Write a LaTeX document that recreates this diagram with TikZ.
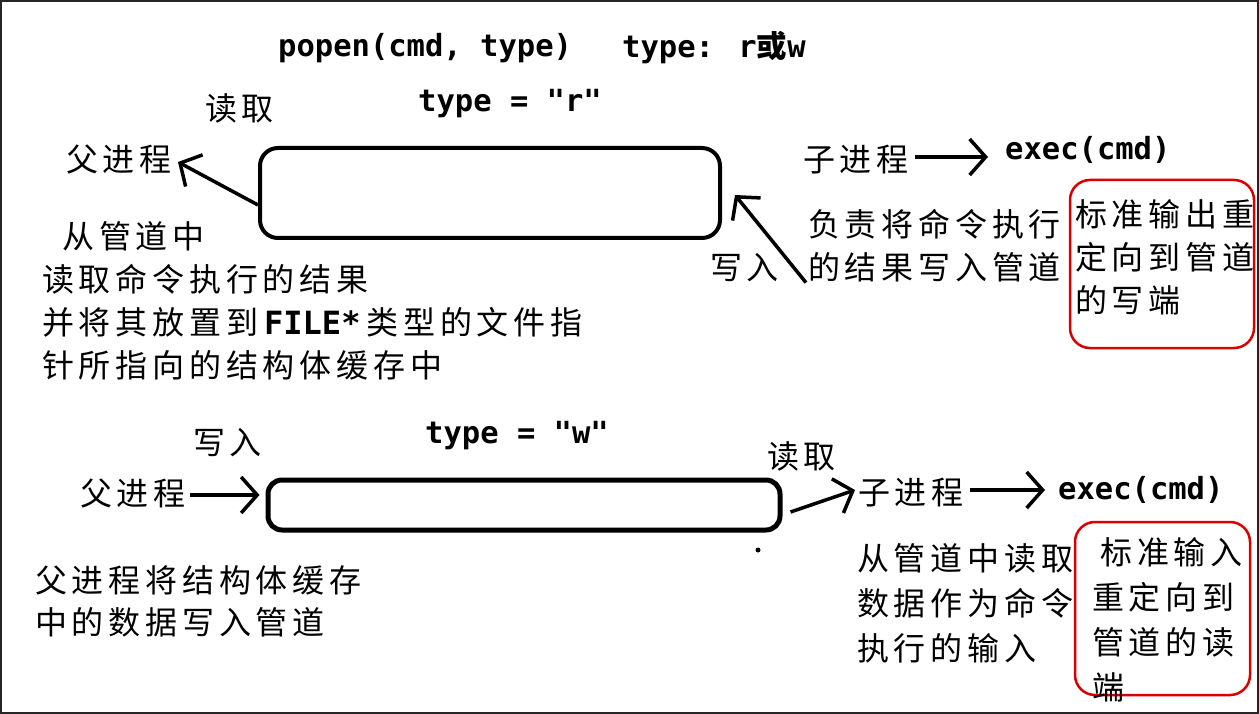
\documentclass[tikz,border=0pt]{standalone}
\usepackage{fontspec}
\usetikzlibrary{arrows.meta,calc}
\newfontfamily\cjk[LetterSpace=15]{Noto Sans CJK SC}
\newfontfamily\mono{DejaVu Sans Mono}
\tikzset{
  zh/.style={font=\cjk\fontsize{32pt}{43pt}\selectfont, inner sep=0pt, anchor=west, align=left},
  code/.style={font=\mono\bfseries\fontsize{30.5pt}{36pt}\selectfont, inner sep=0pt, anchor=west},
  pipe/.style={draw, line width=4pt, rounded corners=18pt, inner sep=0pt},
  redbox/.style={draw=red!85!black, line width=2.5pt, rounded corners=20pt},
  barb/.style={line width=3.5pt, -{Straight Barb[length=16pt,width=36pt]}},
}
\begin{document}
\begin{tikzpicture}[x=1pt,y=-1pt]
\useasboundingbox (0,0) rectangle (1259,714);
% Rahmen
\draw[line width=2.5pt, black!85] (1,1) rectangle (1258,713);

% Titel
\node[code] (title) at (278,48) {popen(cmd, type)};
\node[code] (titleType) at (622,48) {type: r{\cjk 或}w};

% type = "r"
\node[code] (typeR) at (418,104) {type = "r"};
\node[zh] (readR) at (205,108) {读取};
\node[zh] (parentR) at (66,160) {父进程};
\node[pipe, minimum width=460pt, minimum height=90pt] (pipeR) at (490,193) {};
\draw[barb] ($(pipeR.west)+(0,12)$) -- ($(parentR.east)+(6,2)$);
\node[zh] (parentDescR) at (42,301) {\hspace*{20pt}从管道中\\读取命令执行的结果\\并将其放置到\hspace{6pt}{\mono\bfseries FILE*}\hspace{6pt}类型的文件指\\针所指向的结构体缓存中};

% Kindprozess (r)
\node[zh] (childR) at (803,160) {子进程};
\node[code] (execR) at (1005,150) {exec(cmd)};
\draw[barb] ($(childR.east)+(6,-3)$) -- ($(childR.east -| execR.west)+(-17,-3)$);
\node[zh] (childDoR) at (808,246) {负责将命令执行\\的结果写入管道};
\node[zh] (writeR) at (710,268) {写入};
\draw[barb] ($(childDoR.south west)+(-2,0)$) -- ($(pipeR.east)+(13,2)$);
\draw[redbox] (1070,180) rectangle (1254,348);
\node[zh] (stdoutR) at (1075,257) {标准输出重\\定向到管道\\的写端};

% type = "w"
\node[code] (typeW) at (425,436) {type = "w"};
\node[zh] (writeW) at (193,443) {写入};
\node[zh] (readW) at (767,456) {读取};
\node[zh] (parentW) at (80,493) {父进程};
\node[pipe, line width=5pt, rounded corners=14pt, minimum width=512pt, minimum height=50pt] (pipeW) at (524,505) {};
\draw[barb] ($(parentW.east)+(4,2)$) -- ($(pipeW.west)+(-6,-10)$);
\fill (758,550) circle (2.5pt);
\node[zh, font=\cjk\fontsize{32pt}{42pt}\selectfont] (parentDescW) at (35,601) {父进程将结构体缓存\\中的数据写入管道};

% Kindprozess (w)
\node[zh] (childW) at (858,493) {子进程};
\node[code] (execW) at (1058,490) {exec(cmd)};
\draw[barb] ($(pipeW.east)+(8,7)$) -- ($(childW.west)+(-3,-3)$);
\draw[barb] ($(childW.east)+(6,-3)$) -- ($(execW.west)+(-13,0)$);
\node[zh, font=\cjk\fontsize{32pt}{45pt}\selectfont] (childDoW) at (857,603) {从管道中读取\\数据作为命令\\执行的输入};
\draw[redbox] (1075,522) rectangle (1250,695);
\node[zh, font=\cjk\fontsize{32pt}{45pt}\selectfont] (stdinW) at (1092,620) {\hspace*{8pt}标准输入\\重定向到\\管道的读\\端};
\end{tikzpicture}
\end{document}
